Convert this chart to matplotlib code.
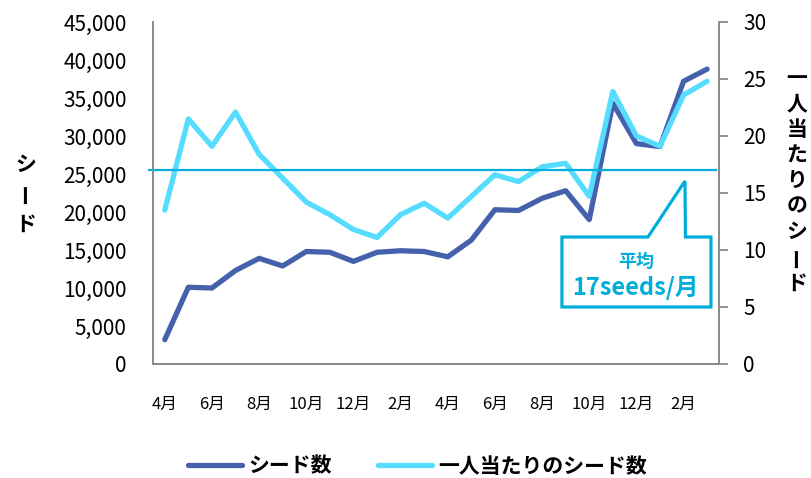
import matplotlib.pyplot as plt
import matplotlib.transforms as mtransforms
from matplotlib.patches import Polygon
from matplotlib.ticker import FuncFormatter
import numpy as np

plt.rcParams['font.family'] = ['Noto Sans CJK JP', 'DejaVu Sans']

# data (Apr of year 1 .. Mar of year 3)
months = ["4月", "5月", "6月", "7月", "8月", "9月", "10月", "11月", "12月", "1月", "2月", "3月"] * 2
seeds = [3200, 10100, 10000, 12300, 13900, 12900, 14800, 14700, 13500, 14700, 14900, 14800,
         14100, 16300, 20300, 20200, 21800, 22800, 19000, 34300, 29000, 28600, 37200, 38800]
per_person = [13.5, 21.5, 19.1, 22.1, 18.4, 16.3, 14.2, 13.1, 11.8, 11.1, 13.1, 14.1,
              12.8, 14.7, 16.6, 16.0, 17.3, 17.6, 14.7, 23.9, 20.0, 19.1, 23.6, 24.8]
average = 17

DARK = "#4661AC"
LIGHT = "#55DCFF"
AVG = "#00AEDB"
GREY = "#8C8C8C"

fig = plt.figure(figsize=(8.12, 4.78), dpi=100)
ax = fig.add_axes([0.1884, 0.2385, 0.6970, 0.7155])
ax2 = ax.twinx()

x = np.arange(len(months))
ax.plot(x, seeds, color=DARK, lw=3.8, solid_capstyle="round", label="シード数")
ax2.plot(x, per_person, color=LIGHT, lw=3.8, solid_capstyle="round", label="一人当たりのシード数")

# average line (runs a little past the left axis)
trans = mtransforms.blended_transform_factory(ax2.transAxes, ax2.transData)
ax2.plot([-0.007, 0.995], [average, average], color=AVG, lw=1.6, transform=trans, clip_on=False)

ax.set_xlim(-0.5, len(months) - 0.5)
ax.set_ylim(0, 45000)
ax.set_yticks(range(0, 45001, 5000))
ax.yaxis.set_major_formatter(FuncFormatter(lambda v, p: f"{int(v):,}"))
ax2.set_ylim(0, 30)
ax2.set_yticks(range(0, 31, 5))

ax.set_xticks(x[::2])
ax.set_xticklabels(months[::2])

for a in (ax, ax2):
    a.spines["top"].set_visible(False)
    for s in ("left", "right", "bottom"):
        a.spines[s].set_color(GREY)
        a.spines[s].set_linewidth(1.3)

ax.tick_params(axis="x", length=0, pad=23, labelsize=12)
ax.tick_params(axis="y", length=0, pad=19, labelsize=15)
ax2.tick_params(axis="y", length=6.5, width=1.3, color=GREY, pad=11, labelsize=15)

# callout box
box = Polygon([(0.7226, 0.3713), (0.8746, 0.3713), (0.94, 0.535), (0.9408, 0.3713),
               (0.9859, 0.3713), (0.9859, 0.1667), (0.7226, 0.1667)],
              closed=True, transform=ax2.transAxes, facecolor="white",
              edgecolor=AVG, lw=2.3, zorder=5, joinstyle="miter")
ax2.add_patch(box)
ax2.text(0.853, 0.30, "平均", transform=ax2.transAxes, ha="center", va="center",
         color=AVG, fontsize=13, fontweight="bold", zorder=6)
ax2.text(0.853, 0.222, "17seeds/月", transform=ax2.transAxes, ha="center", va="center",
         color=AVG, fontsize=17, fontweight="bold", zorder=6)

# vertical axis titles, one character per line
def vertical_label(chars, xpx, ytop, step):
    for i, c in enumerate(chars):
        rot = 90 if c == "ー" else 0
        fig.text(xpx / 812, 1 - (ytop + i * step) / 478, c, ha="center", va="center",
                 fontsize=15, fontweight="bold", rotation=rot)

vertical_label("シード", 26, 164, 30)
vertical_label("一人当たりのシード", 797, 78, 25.6)

leg = fig.legend(loc="center", bbox_to_anchor=(0.514, 0.025), ncol=2, frameon=False,
                 handlelength=2.6, handletextpad=0.3, columnspacing=2.2,
                 prop={"weight": "bold", "size": 15})

fig.savefig("out.png", dpi=100)
